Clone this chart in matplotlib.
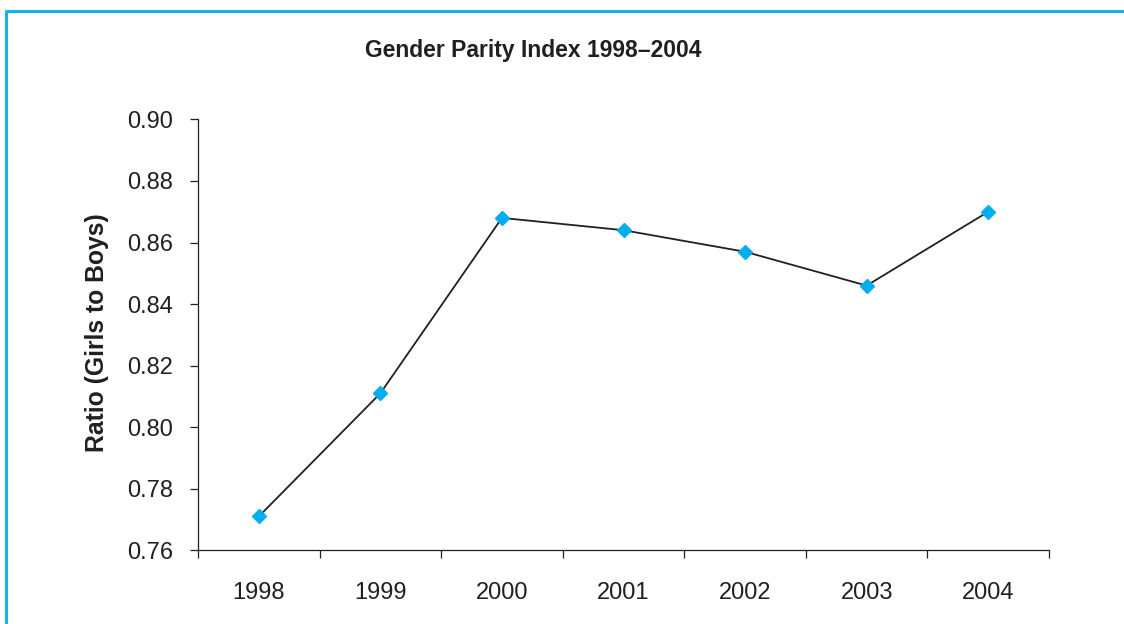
import matplotlib
matplotlib.use("Agg")
import matplotlib.pyplot as plt
from matplotlib.lines import Line2D
import numpy as np

years = ["1998", "1999", "2000", "2001", "2002", "2003", "2004"]
ratio = [0.771, 0.811, 0.868, 0.864, 0.857, 0.846, 0.870]
y_ticks = [0.76, 0.78, 0.80, 0.82, 0.84, 0.86, 0.88, 0.90]

plt.rcParams["font.family"] = ["Liberation Sans", "DejaVu Sans"]
ink = "#231f20"
blue = "#00aeef"

fig = plt.figure(figsize=(11.24, 6.24), dpi=100)
ax = fig.add_axes([198 / 1124, 1 - 550.3 / 624, (1049 - 198) / 1124, (550.3 - 119.4) / 624])

x = np.arange(len(years))
ax.plot(x, ratio, color=ink, lw=1.3, marker="D", markersize=7,
        markerfacecolor=blue, markeredgecolor=blue, zorder=3)

ax.set_ylim(0.76, 0.90)
ax.set_yticks(y_ticks)
ax.set_yticklabels([f"{v:.2f}" for v in y_ticks])
ax.set_xlim(-0.5, len(years) - 0.5)

# category boundaries carry the tick marks, labels sit at the centres
ax.set_xticks(np.arange(-0.5, len(years)), minor=False)
ax.set_xticklabels([])
ax.set_xticks(x, minor=True)
ax.set_xticklabels(years, minor=True)
ax.tick_params(axis="x", which="major", direction="out", length=6, width=0.9, color=ink)
ax.tick_params(axis="x", which="minor", length=0, pad=22.5, labelsize=17, labelcolor=ink)
ax.tick_params(axis="y", direction="out", length=6, width=0.9, color=ink,
               pad=12, labelsize=17, labelcolor=ink)

for side in ("top", "right"):
    ax.spines[side].set_visible(False)
for side in ("left", "bottom"):
    ax.spines[side].set_color(ink)
    ax.spines[side].set_linewidth(0.9)

fig.text(97 / 1124, 1 - 333 / 624, "Ratio (Girls to Boys)", rotation=90,
         ha="center", va="center", fontsize=17.8, fontweight="bold", color=ink)
fig.text(533.5 / 1124, 1 - 50.7 / 624, "Gender Parity Index 1998\u20132004",
         ha="center", va="center", fontsize=16.5, fontweight="bold", color=ink)

# frame lines along the left and top edges
border = "#12b5ea"
fig.add_artist(Line2D([5.5 / 1124, 5.5 / 1124], [0, 1 - 11.5 / 624],
                      transform=fig.transFigure, color=border, lw=2.2))
fig.add_artist(Line2D([4.5 / 1124, 1], [1 - 10.5 / 624, 1 - 10.5 / 624],
                      transform=fig.transFigure, color=border, lw=2.2,
                      solid_capstyle="butt"))

fig.savefig("out.png", dpi=100)
